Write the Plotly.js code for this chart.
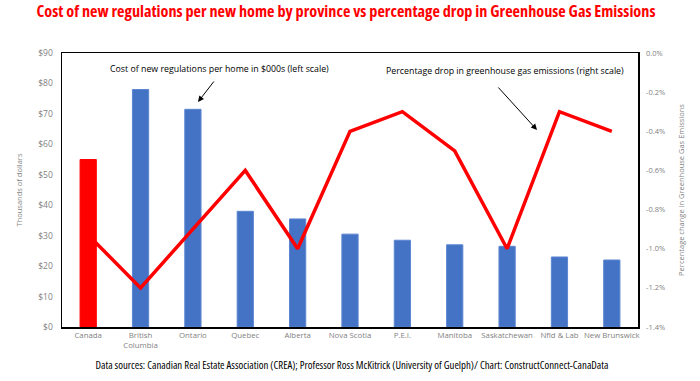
<!DOCTYPE html>
<html><head><meta charset="utf-8">
<script src="https://cdn.plot.ly/plotly-3.0.1.min.js"></script>
<style>html,body{margin:0;padding:0;background:#fff}#c{width:700px;height:381px}</style>
</head><body><div id="c"></div>
<script>
const provinces = ["Canada","British<br>Columbia","Ontario","Quebec","Alberta","Nova Scotia","P.E.I.","Manitoba","Saskatchewan","Nfld & Lab","New Brunswick"];
const costThousands = [55, 78, 71.5, 38, 35.5, 30.5, 28.5, 27, 26.5, 23, 22];
const ghgDropPct = [-0.93, -1.2, -0.9, -0.6, -1.0, -0.4, -0.3, -0.5, -1.0, -0.3, -0.4];
const barColors = provinces.map((p,i)=> i===0 ? "#FF0000" : "#4472C4");
const leftTicks = [0,10,20,30,40,50,60,70,80,90];
const rightTicks = [0,-0.2,-0.4,-0.6,-0.8,-1.0,-1.2,-1.4];

const font = "Open Sans, Liberation Sans, sans-serif";
const gray = "#7f7f7f";

Plotly.newPlot("c", [
  {type:"bar", x:provinces, y:costThousands, marker:{color:barColors, line:{color:barColors.map(c=>c==="#FF0000"?"#FF0000":"#5b86d0"), width:1}}, yaxis:"y", hoverinfo:"skip"},
  {type:"scatter", mode:"lines", x:provinces, y:ghgDropPct, line:{color:"#FF0000", width:3.5}, yaxis:"y2", hoverinfo:"skip"}
], {
  width:700, height:381,
  margin:{l:62, r:62, t:53, b:54},
  paper_bgcolor:"#fff", plot_bgcolor:"#fff",
  showlegend:false,
  bargap:0.69,
  title:{text:"Cost of new regulations per new home by province vs percentage drop in Greenhouse Gas Emissions",
    font:{family:font, size:16.2, color:"#FF0000", weight:"bold"},
    x:346/700, xanchor:"center", y:1-11/381, yanchor:"middle"},
  xaxis:{showline:true, linecolor:"#000", linewidth:1.5, mirror:true, ticks:"", tickfont:{family:font, size:7.8, color:gray}, showgrid:false, fixedrange:true},
  yaxis:{range:[0,90], tickvals:leftTicks, ticktext:leftTicks.map(v=>"$"+v), tickfont:{family:font, size:8.5, color:gray},
    showgrid:false, zeroline:false, showline:true, linecolor:"#000", linewidth:1.5, ticks:"", ticklabelstandoff:6,
    title:{text:"Thousands of dollars", font:{family:font, size:7.5, color:gray}, standoff:14}},
  yaxis2:{overlaying:"y", side:"right", range:[-1.4,0], tickvals:rightTicks, ticktext:rightTicks.map(v=>v.toFixed(1)+"%"), tickfont:{family:font, size:7.5, color:gray},
    showgrid:false, zeroline:false, showline:true, linecolor:"#000", linewidth:1.5, ticks:"", ticklabelstandoff:5,
    title:{text:"Percentage change in Greenhouse Gas Emissions", font:{family:font, size:7.5, color:gray}, standoff:14}},
  annotations:[
    {xref:"paper", yref:"paper", x:(219-62)/576, y:(327-69)/274, text:"Cost of new regulations per home in $000s (left scale)", showarrow:false, font:{family:font, size:8.8, color:"#000"}, xanchor:"center", yanchor:"middle"},
    {xref:"paper", yref:"paper", x:(505-62)/576, y:(327-71)/274, text:"Percentage drop in greenhouse gas emissions (right scale)", showarrow:false, font:{family:font, size:8.8, color:"#000"}, xanchor:"center", yanchor:"middle"},
    {xref:"paper", yref:"paper", x:(198-62)/576, y:(327-102)/274, ax:(215-62)/576, ay:(327-80)/274, axref:"paper", ayref:"paper", text:"", showarrow:true, arrowhead:2, arrowsize:1.2, arrowwidth:1, arrowcolor:"#000"},
    {xref:"paper", yref:"paper", x:(537-62)/576, y:(327-130)/274, ax:(497-62)/576, ay:(327-86)/274, axref:"paper", ayref:"paper", text:"", showarrow:true, arrowhead:2, arrowsize:1.2, arrowwidth:1, arrowcolor:"#000"},
    {xref:"paper", yref:"paper", x:(352-62)/576, y:(327-364)/274, text:"Data sources: Canadian Real Estate Association (CREA); Professor Ross McKitrick (University of Guelph)/ Chart: ConstructConnect-CanaData", showarrow:false, font:{family:font, size:10.8, color:"#000"}, xanchor:"center", yanchor:"middle"}
  ]
}, {staticPlot:true}).then(gd=>{
  gd.querySelectorAll(".gtitle").forEach(e=>e.style.fontStretch="condensed");
  const anns = gd.querySelectorAll(".annotation-text");
  if (anns.length) anns[anns.length-1].style.fontStretch="condensed";
});
</script></body></html>
